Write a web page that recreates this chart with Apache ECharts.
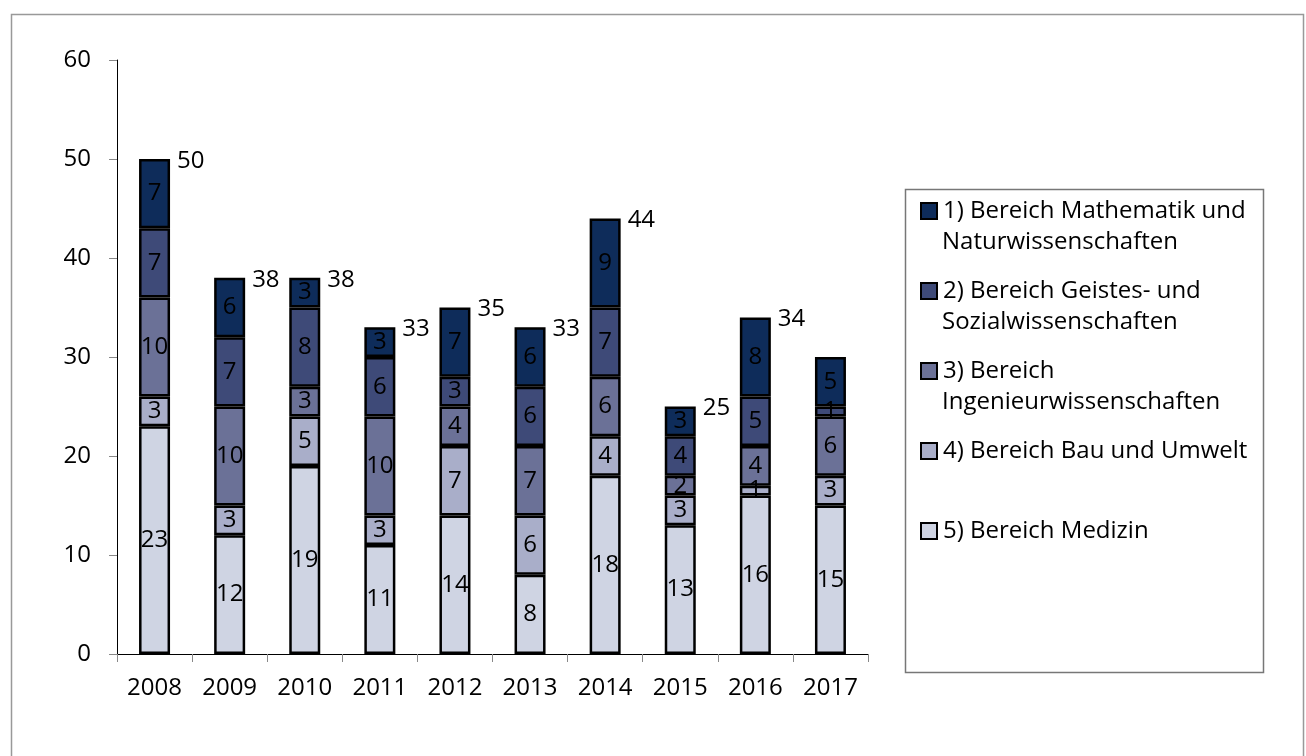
<!DOCTYPE html>
<html>
<head>
<meta charset="utf-8">
<title>Bereiche 2008-2017</title>
<script src="https://cdn.jsdelivr.net/npm/echarts@6/dist/echarts.min.js"></script>
<style>
  html, body { margin: 0; padding: 0; background: #fff; }
  #chart { width: 1306px; height: 756px; }
</style>
</head>
<body>
<div id="chart"></div>
<script>
// Jahre
const years = ['2008', '2009', '2010', '2011', '2012', '2013', '2014', '2015', '2016', '2017'];

// Werte je Bereich (von unten nach oben gestapelt)
const medizin = [23, 12, 19, 11, 14, 8, 18, 13, 16, 15];
const bauUmwelt = [3, 3, 5, 3, 7, 6, 4, 3, 1, 3];
const ingenieur = [10, 10, 3, 10, 4, 7, 6, 2, 4, 6];
const geistes = [7, 7, 8, 6, 3, 6, 7, 4, 5, 1];
const mathe = [7, 6, 3, 3, 7, 6, 9, 3, 8, 5];

// Summen über den Balken (2017 ohne Beschriftung)
const totals = ['50', '38', '38', '33', '35', '33', '44', '25', '34', ''];

const legendFirstLines = [
  '1) Bereich Mathematik und',
  '2) Bereich Geistes- und',
  '3) Bereich',
  '4) Bereich Bau und Umwelt',
  '5) Bereich Medizin'
];
const legendSecondLines = ['Naturwissenschaften', 'Sozialwissenschaften', 'Ingenieurwissenschaften', '', ''];

const colors = ['#0e2c5a', '#3e4a78', '#6b7197', '#a9aec9', '#cfd4e3'];
const FONT = "'Open Sans', 'Noto Sans', sans-serif";
const FS = 24;

const chart = echarts.init(document.getElementById('chart'));

// gemeinsamer Stil für die gestapelten Balken
function barSeries(name, data, color) {
  return {
    name: name,
    type: 'bar',
    stack: 'total',
    data: data,
    barWidth: 31,
    itemStyle: { color: color, borderColor: '#000', borderWidth: 2.5 },
    label: {
      show: true,
      position: 'inside',
      color: '#000',
      fontFamily: FONT,
      fontSize: FS
    },
    emphasis: { disabled: true }
  };
}

const series = [
  barSeries(legendFirstLines[4], medizin, colors[4]),
  barSeries(legendFirstLines[3], bauUmwelt, colors[3]),
  barSeries(legendFirstLines[2], ingenieur, colors[2]),
  barSeries(legendFirstLines[1], geistes, colors[1]),
  barSeries(legendFirstLines[0], mathe, colors[0]),
  {
    // unsichtbare Reihe nur für die Summen
    name: 'Summe',
    type: 'bar',
    stack: 'total',
    data: years.map(() => 0),
    barWidth: 31,
    itemStyle: { color: 'transparent', borderWidth: 0 },
    label: {
      show: true,
      position: 'right',
      distance: 7,
      offset: [0, 2],
      color: '#000',
      fontFamily: FONT,
      fontSize: FS,
      formatter: (p) => totals[p.dataIndex]
    },
    emphasis: { disabled: true }
  }
];

const secondLineTexts = [];
legendSecondLines.forEach((t, i) => {
  if (!t) return;
  secondLineTexts.push({
    type: 'text',
    left: 942,
    top: 226 + i * 80,
    style: { text: t, fill: '#000', font: FS + 'px ' + FONT, lineHeight: 32 }
  });
});

chart.setOption({
  animation: false,
  textStyle: { fontFamily: FONT },
  grid: { left: 117, right: 438, top: 60, bottom: 102 },
  legend: {
    orient: 'vertical',
    left: 920,
    top: 196,
    padding: 0,
    itemGap: 50,
    itemWidth: 16,
    itemHeight: 16,
    icon: 'rect',
    selectedMode: false,
    data: legendFirstLines,
    itemStyle: { borderColor: '#000', borderWidth: 2 },
    textStyle: {
      fontFamily: FONT,
      fontSize: FS,
      color: '#000',
      lineHeight: 30,
      padding: [0, 0, 0, 1]
    }
  },
  xAxis: {
    type: 'category',
    data: years,
    axisLine: { lineStyle: { color: '#000', width: 1 } },
    axisTick: { show: true, length: 8, lineStyle: { color: '#888' } },
    axisLabel: { color: '#000', fontSize: FS, fontFamily: FONT, margin: 22 }
  },
  yAxis: {
    type: 'value',
    min: 0,
    max: 60,
    interval: 10,
    axisLine: { show: true, lineStyle: { color: '#000', width: 1 } },
    axisTick: { show: true, length: 8, lineStyle: { color: '#888' } },
    axisLabel: { color: '#000', fontSize: FS, fontFamily: FONT, margin: 26 },
    splitLine: { show: false }
  },
  graphic: [
    {
      type: 'rect',
      left: 9,
      top: 12,
      shape: { width: 1292, height: 760 },
      style: { fill: 'none', stroke: '#999', lineWidth: 1.5 },
      silent: true
    },
    {
      type: 'rect',
      left: 903,
      top: 187,
      shape: { width: 358, height: 483 },
      style: { fill: 'none', stroke: '#777', lineWidth: 1.5 },
      silent: true
    }
  ].concat(secondLineTexts),
  series: series
});
</script>
</body>
</html>
